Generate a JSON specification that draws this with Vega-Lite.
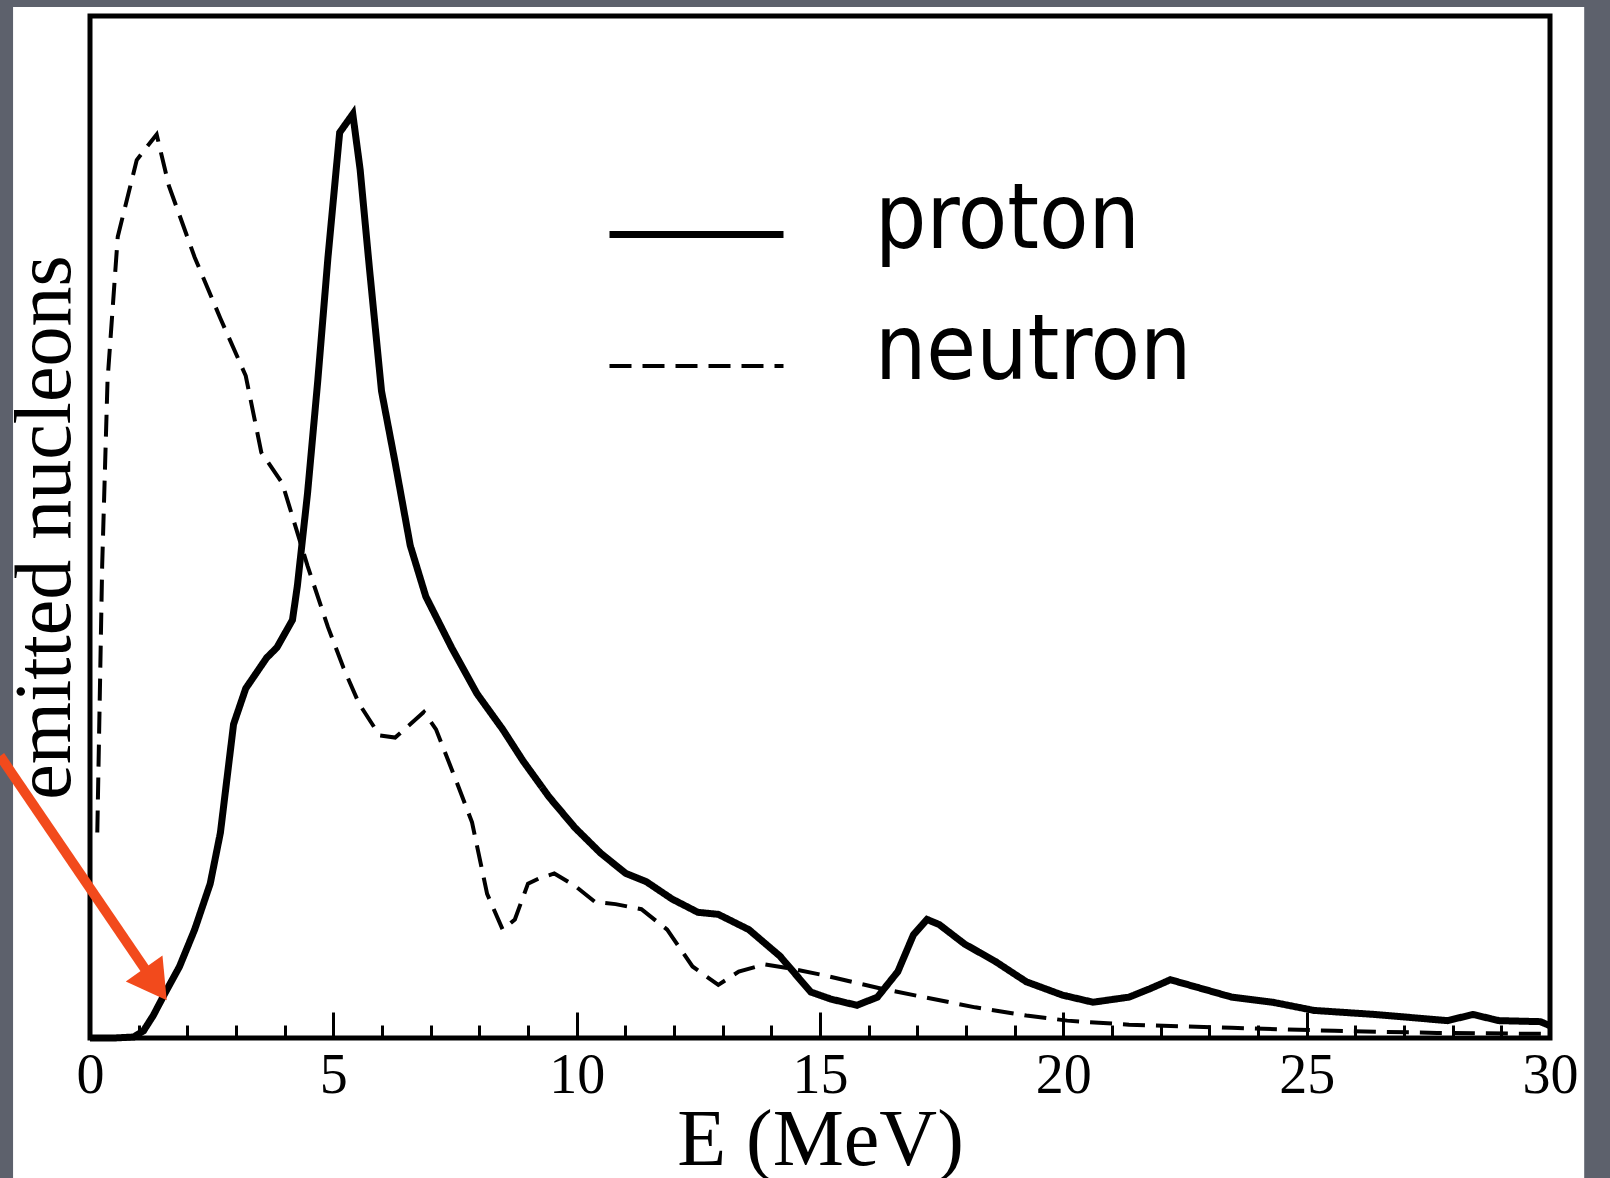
{
  "$schema": "https://vega.github.io/schema/vega-lite/v6.json",
  "autosize": {"type": "none"},
  "padding": {"left": 90, "top": 16, "right": 60, "bottom": 140},
  "width": 1460,
  "height": 1022,
  "background": "white",
  "config": {
    "view": {"stroke": "black", "strokeWidth": 5, "fill": "white"},
    "axis": {"grid": false}
  },
  "datasets": {
    "spectra": [
      {"E": 0, "n": 0, "series": "proton"},
      {"E": 0.5, "n": 0, "series": "proton"},
      {"E": 0.9, "n": 0.1, "series": "proton"},
      {"E": 1.1, "n": 0.7, "series": "proton"},
      {"E": 1.3, "n": 2.2, "series": "proton"},
      {"E": 1.52, "n": 4.2, "series": "proton"},
      {"E": 1.84, "n": 7.0, "series": "proton"},
      {"E": 2.15, "n": 10.6, "series": "proton"},
      {"E": 2.47, "n": 15.1, "series": "proton"},
      {"E": 2.68, "n": 20.1, "series": "proton"},
      {"E": 2.95, "n": 30.7, "series": "proton"},
      {"E": 3.2, "n": 34.2, "series": "proton"},
      {"E": 3.63, "n": 37.2, "series": "proton"},
      {"E": 3.84, "n": 38.2, "series": "proton"},
      {"E": 4.16, "n": 40.9, "series": "proton"},
      {"E": 4.26, "n": 44.2, "series": "proton"},
      {"E": 4.47, "n": 53.3, "series": "proton"},
      {"E": 4.68, "n": 64.3, "series": "proton"},
      {"E": 4.89, "n": 76.4, "series": "proton"},
      {"E": 5.13, "n": 88.6, "series": "proton"},
      {"E": 5.4, "n": 90.4, "series": "proton"},
      {"E": 5.55, "n": 85.0, "series": "proton"},
      {"E": 5.74, "n": 75.4, "series": "proton"},
      {"E": 5.99, "n": 63.3, "series": "proton"},
      {"E": 6.27, "n": 56.3, "series": "proton"},
      {"E": 6.58, "n": 48.2, "series": "proton"},
      {"E": 6.9, "n": 43.2, "series": "proton"},
      {"E": 7.43, "n": 38.2, "series": "proton"},
      {"E": 7.95, "n": 33.7, "series": "proton"},
      {"E": 8.48, "n": 30.2, "series": "proton"},
      {"E": 8.9, "n": 27.1, "series": "proton"},
      {"E": 9.43, "n": 23.6, "series": "proton"},
      {"E": 9.96, "n": 20.6, "series": "proton"},
      {"E": 10.49, "n": 18.1, "series": "proton"},
      {"E": 11.01, "n": 16.1, "series": "proton"},
      {"E": 11.43, "n": 15.3, "series": "proton"},
      {"E": 11.96, "n": 13.6, "series": "proton"},
      {"E": 12.49, "n": 12.3, "series": "proton"},
      {"E": 12.91, "n": 12.1, "series": "proton"},
      {"E": 13.54, "n": 10.6, "series": "proton"},
      {"E": 14.18, "n": 8.0, "series": "proton"},
      {"E": 14.81, "n": 4.5, "series": "proton"},
      {"E": 15.23, "n": 3.8, "series": "proton"},
      {"E": 15.76, "n": 3.2, "series": "proton"},
      {"E": 16.18, "n": 4.0, "series": "proton"},
      {"E": 16.6, "n": 6.5, "series": "proton"},
      {"E": 16.92, "n": 10.1, "series": "proton"},
      {"E": 17.2, "n": 11.6, "series": "proton"},
      {"E": 17.45, "n": 11.1, "series": "proton"},
      {"E": 17.97, "n": 9.2, "series": "proton"},
      {"E": 18.6, "n": 7.5, "series": "proton"},
      {"E": 19.24, "n": 5.5, "series": "proton"},
      {"E": 19.98, "n": 4.2, "series": "proton"},
      {"E": 20.61, "n": 3.5, "series": "proton"},
      {"E": 21.35, "n": 4.0, "series": "proton"},
      {"E": 21.77, "n": 4.8, "series": "proton"},
      {"E": 22.2, "n": 5.7, "series": "proton"},
      {"E": 22.72, "n": 5.0, "series": "proton"},
      {"E": 23.46, "n": 4.0, "series": "proton"},
      {"E": 24.3, "n": 3.5, "series": "proton"},
      {"E": 25.15, "n": 2.7, "series": "proton"},
      {"E": 26.41, "n": 2.3, "series": "proton"},
      {"E": 27.89, "n": 1.7, "series": "proton"},
      {"E": 28.42, "n": 2.3, "series": "proton"},
      {"E": 28.95, "n": 1.7, "series": "proton"},
      {"E": 29.8, "n": 1.6, "series": "proton"},
      {"E": 30, "n": 1.2, "series": "proton"},

      {"E": 0.15, "n": 20.1, "series": "neutron"},
      {"E": 0.25, "n": 46.2, "series": "neutron"},
      {"E": 0.36, "n": 64.3, "series": "neutron"},
      {"E": 0.57, "n": 78.4, "series": "neutron"},
      {"E": 0.96, "n": 85.9, "series": "neutron"},
      {"E": 1.17, "n": 87.2, "series": "neutron"},
      {"E": 1.37, "n": 88.4, "series": "neutron"},
      {"E": 1.62, "n": 83.4, "series": "neutron"},
      {"E": 2.15, "n": 76.4, "series": "neutron"},
      {"E": 2.68, "n": 70.4, "series": "neutron"},
      {"E": 3.2, "n": 64.8, "series": "neutron"},
      {"E": 3.52, "n": 57.3, "series": "neutron"},
      {"E": 3.95, "n": 54.3, "series": "neutron"},
      {"E": 4.47, "n": 46.2, "series": "neutron"},
      {"E": 4.89, "n": 40.2, "series": "neutron"},
      {"E": 5.21, "n": 36.2, "series": "neutron"},
      {"E": 5.53, "n": 32.7, "series": "neutron"},
      {"E": 5.95, "n": 29.6, "series": "neutron"},
      {"E": 6.27, "n": 29.4, "series": "neutron"},
      {"E": 6.58, "n": 30.7, "series": "neutron"},
      {"E": 6.86, "n": 31.9, "series": "neutron"},
      {"E": 7.11, "n": 30.2, "series": "neutron"},
      {"E": 7.53, "n": 25.1, "series": "neutron"},
      {"E": 7.85, "n": 21.1, "series": "neutron"},
      {"E": 8.16, "n": 14.1, "series": "neutron"},
      {"E": 8.48, "n": 10.6, "series": "neutron"},
      {"E": 8.73, "n": 11.6, "series": "neutron"},
      {"E": 9.0, "n": 15.1, "series": "neutron"},
      {"E": 9.22, "n": 15.6, "series": "neutron"},
      {"E": 9.54, "n": 16.1, "series": "neutron"},
      {"E": 9.96, "n": 14.9, "series": "neutron"},
      {"E": 10.38, "n": 13.3, "series": "neutron"},
      {"E": 10.8, "n": 13.1, "series": "neutron"},
      {"E": 11.33, "n": 12.6, "series": "neutron"},
      {"E": 11.86, "n": 10.6, "series": "neutron"},
      {"E": 12.38, "n": 7.0, "series": "neutron"},
      {"E": 12.91, "n": 5.2, "series": "neutron"},
      {"E": 13.33, "n": 6.5, "series": "neutron"},
      {"E": 13.86, "n": 7.2, "series": "neutron"},
      {"E": 14.39, "n": 6.8, "series": "neutron"},
      {"E": 15.02, "n": 6.2, "series": "neutron"},
      {"E": 15.65, "n": 5.5, "series": "neutron"},
      {"E": 16.29, "n": 4.8, "series": "neutron"},
      {"E": 17.13, "n": 4.0, "series": "neutron"},
      {"E": 18.19, "n": 3.0, "series": "neutron"},
      {"E": 19.24, "n": 2.2, "series": "neutron"},
      {"E": 20.08, "n": 1.7, "series": "neutron"},
      {"E": 21.35, "n": 1.3, "series": "neutron"},
      {"E": 23.46, "n": 1.0, "series": "neutron"},
      {"E": 25.57, "n": 0.7, "series": "neutron"},
      {"E": 27.68, "n": 0.5, "series": "neutron"},
      {"E": 30, "n": 0.4, "series": "neutron"}
    ],
    "one": [{}]
  },
  "layer": [
    {
      "data": {"name": "spectra"},
      "mark": {"type": "line", "color": "black", "strokeJoin": "miter"},
      "encoding": {
        "x": {
          "field": "E", "type": "quantitative",
          "scale": {"domain": [0, 30], "nice": false},
          "axis": {
            "values": [0,1,2,3,4,5,6,7,8,9,10,11,12,13,14,15,16,17,18,19,20,21,22,23,24,25,26,27,28,29,30],
            "labelExpr": "datum.value % 5 === 0 ? datum.label : ''",
            "tickSize": {"condition": {"test": "datum.value % 5 === 0", "value": -26}, "value": -13},
            "tickColor": "black",
            "tickWidth": 3,
            "domain": false,
            "labelFont": "Liberation Serif",
            "labelFontSize": 56,
            "labelColor": "black",
            "labelPadding": 36,
            "labelFlush": false,
            "labelOverlap": false,
            "title": "E (MeV)",
            "titleFont": "Liberation Serif",
            "titleFontSize": 80,
            "titleFontWeight": "normal",
            "titleColor": "black",
            "titleBaseline": "alphabetic",
            "titlePadding": 48
          }
        },
        "y": {
          "field": "n", "type": "quantitative",
          "scale": {"domain": [0, 100], "nice": false},
          "axis": {
            "labels": false, "ticks": false, "domain": false,
            "title": "emitted nucleons",
            "titleFont": "Liberation Serif",
            "titleFontSize": 80,
            "titleFontWeight": "normal",
            "titleColor": "black",
            "titleBaseline": "alphabetic",
            "titlePadding": 21
          }
        },
        "strokeDash": {
          "field": "series", "type": "nominal",
          "scale": {"domain": ["proton", "neutron"], "range": [[1, 0], [22, 11]]},
          "legend": {
            "orient": "none",
            "legendX": 516,
            "legendY": 128,
            "title": null,
            "symbolType": "stroke",
            "symbolSize": 30276,
            "symbolStrokeWidth": 7,
            "symbolStrokeColor": "black",
            "labelFont": "DejaVu Sans Condensed",
            "labelFontSize": 90,
            "labelColor": "black",
            "labelLimit": 0,
            "labelOffset": 88,
            "rowPadding": 11,
            "encode": {"labels": {"update": {"dy": {"value": -14}}}}
          }
        },
        "strokeWidth": {
          "field": "series", "type": "nominal",
          "scale": {"domain": ["proton", "neutron"], "range": [7, 4]},
          "legend": null
        }
      }
    },
    {
      "data": {"name": "one"},
      "mark": {"type": "rect", "fill": null, "fillOpacity": 0, "stroke": "#5d616c", "strokeWidth": 26},
      "encoding": {
        "x": {"datum": -1.848, "type": "quantitative"},
        "x2": {"datum": 30.97},
        "y": {"datum": 102.15, "type": "quantitative"},
        "y2": {"datum": -20.7}
      }
    },
    {
      "data": {"name": "one"},
      "mark": {"type": "rule", "color": "#f24a1c", "strokeWidth": 10},
      "encoding": {
        "x": {"datum": -1.85, "type": "quantitative"},
        "y": {"datum": 27.6, "type": "quantitative"},
        "x2": {"datum": 1.13},
        "y2": {"datum": 6.75}
      }
    },
    {
      "data": {"name": "one"},
      "mark": {"type": "point", "shape": "triangle", "filled": true, "color": "#f24a1c", "opacity": 1, "size": 2025, "angle": 144.6},
      "encoding": {
        "x": {"datum": 1.267, "type": "quantitative"},
        "y": {"datum": 5.76, "type": "quantitative"}
      }
    }
  ]
}
